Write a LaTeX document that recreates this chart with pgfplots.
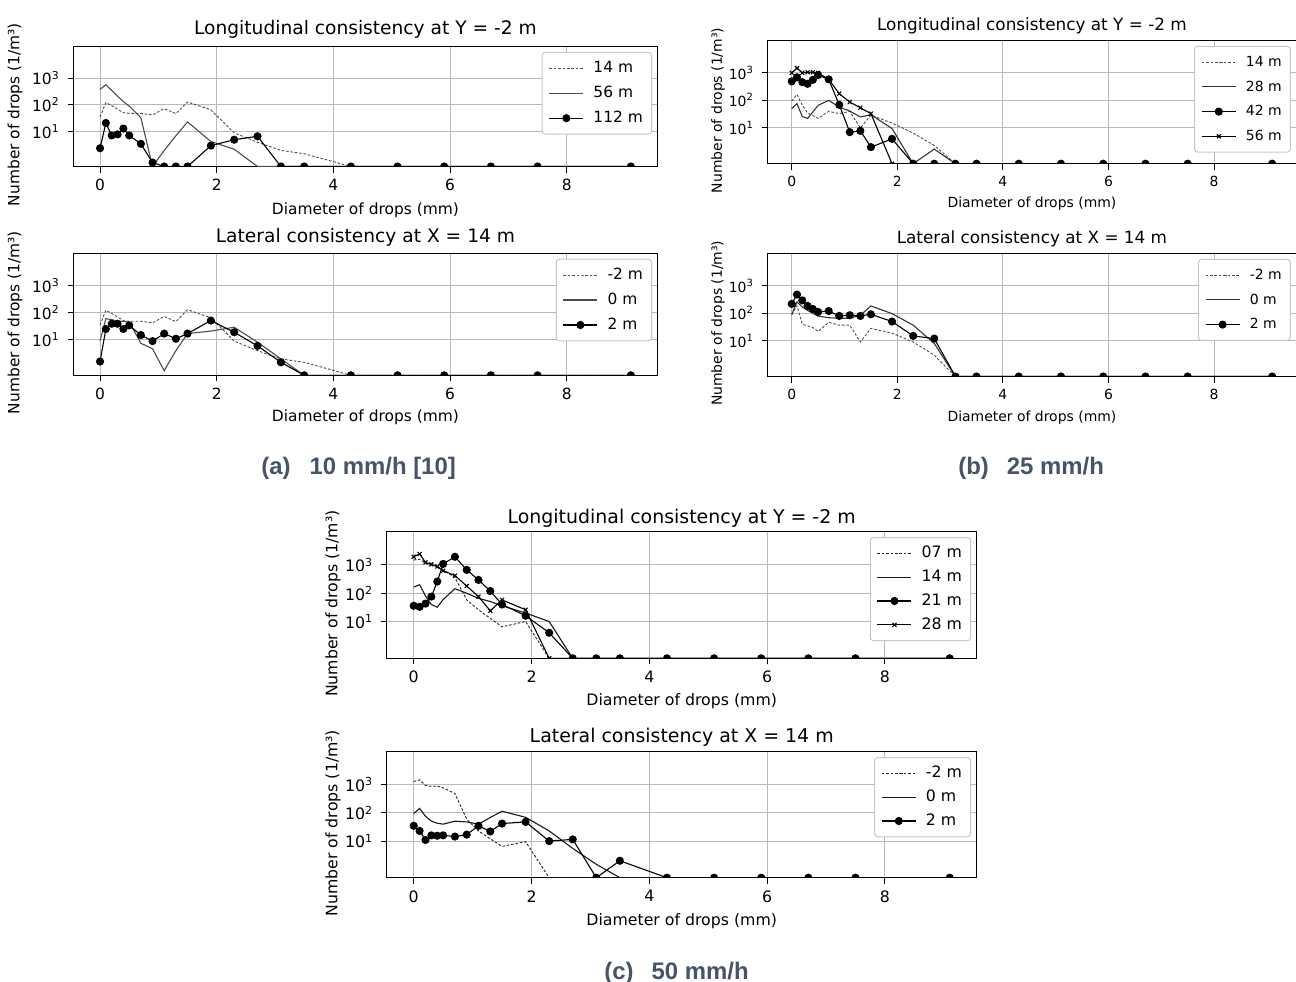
\documentclass[border=0pt]{standalone}
\usepackage{fontspec}
\setmainfont{DejaVu Sans}
\newfontfamily\capfont{Liberation Sans}
\usepackage{pgfplots}
\pgfplotsset{compat=1.18}
\usepackage{pgfplotstable}
\usetikzlibrary{calc}
\definecolor{capcol}{HTML}{44546A}

\pgfplotstableread{
x a b c
0 35 376 2.4
0.1 122 560 21
0.2 93 345 7.2
0.3 69 210 7.9
0.4 51 133 13
0.5 48 89 7.2
0.7 48 33 3.5
0.9 42 0.5 0.7
1.1 72 2.0 0.5
1.3 47 7 0.5
1.5 127 23 0.5
1.9 65 4.3 3.0
2.3 9 2.2 5.0
2.7 4 0.5 6.7
3.1 2 0.5 0.5
3.5 1.5 0.5 0.5
4.3 0.5 0.5 0.5
5.1 0.5 0.5 0.5
5.9 0.5 0.5 0.5
6.7 0.5 0.5 0.5
7.5 0.5 0.5 0.5
9.1 0.5 0.5 0.5
}\tAone

\pgfplotstableread{
x a b c
0 35 9 1.6
0.1 122 60 25
0.2 93 55 39
0.3 69 49 39
0.4 51 47 25
0.5 48 45 34
0.7 48 7.5 15
0.9 42 4.7 9
1.1 72 0.74 17
1.3 47 4 11
1.5 127 17 17
1.9 65 21 51
2.3 9 29 19
2.7 4 8.2 6
3.1 2 2 1.5
3.5 1.5 0.5 0.5
4.3 0.5 0.5 0.5
5.1 0.5 0.5 0.5
5.9 0.5 0.5 0.5
6.7 0.5 0.5 0.5
7.5 0.5 0.5 0.5
9.1 0.5 0.5 0.5
}\tAtwo

\pgfplotstableread{
x a b c d
0 95 50 490 1000
0.1 165 76 690 1500
0.2 66 26 460 1000
0.3 35 22 400 1050
0.4 28 38 560 1050
0.5 22 66 830 1000
0.7 40 100 580 580
0.9 33 57 69 175
1.1 40 41 7 87
1.3 10 25 7.8 54
1.5 29 30 2 33
1.9 15 9.5 4 0.5
2.3 6.5 0.5 0.5 0.5
2.7 2.3 1.7 0.5 0.5
3.1 0.5 0.5 0.5 0.5
3.5 0.5 0.5 0.5 0.5
4.3 0.5 0.5 0.5 0.5
5.1 0.5 0.5 0.5 0.5
5.9 0.5 0.5 0.5 0.5
6.7 0.5 0.5 0.5 0.5
7.5 0.5 0.5 0.5 0.5
9.1 0.5 0.5 0.5 0.5
}\tBone

\pgfplotstableread{
x a b c
0 90 90 220
0.1 190 260 480
0.2 40 170 295
0.3 35 127 185
0.4 30 100 144
0.5 22 79 112
0.7 47 69 121
0.9 37 66 80
1.1 37 66 85
1.3 9 85 80
1.5 28 185 92
1.9 19 97 50
2.3 9 37 15
2.7 3 8 12
3.1 0.5 0.5 0.5
3.5 0.5 0.5 0.5
4.3 0.5 0.5 0.5
5.1 0.5 0.5 0.5
5.9 0.5 0.5 0.5
6.7 0.5 0.5 0.5
7.5 0.5 0.5 0.5
9.1 0.5 0.5 0.5
}\tBtwo

\pgfplotstableread{
x a b c d
0 1500 165 36 1950
0.1 1600 200 33 2450
0.2 1150 80 43 1240
0.3 1000 40 76 1050
0.4 900 32 260 880
0.5 650 60 1090 630
0.7 360 145 1950 420
0.9 58 100 670 180
1.1 26 66 295 76
1.3 13 51 120 24
1.5 6.5 36 40 58
1.9 10 20 16 26
2.3 0.5 10 4 0.5
2.7 0.5 0.5 0.5 0.5
3.1 0.5 0.5 0.5 0.5
3.5 0.5 0.5 0.5 0.5
4.3 0.5 0.5 0.5 0.5
5.1 0.5 0.5 0.5 0.5
5.9 0.5 0.5 0.5 0.5
6.7 0.5 0.5 0.5 0.5
7.5 0.5 0.5 0.5 0.5
9.1 0.5 0.5 0.5 0.5
}\tCone

\pgfplotstableread{
x a b c
0 1300 95 35
0.1 1500 145 23
0.2 950 76 11
0.3 880 51 16
0.4 900 43 15.5
0.5 780 40 16
0.7 490 51 14.5
0.9 60 48 17
1.1 23 40 35
1.3 12 69 22
1.5 6.5 115 42
1.9 9.5 70 48
2.3 0.5 23 10
2.7 0.5 5.5 11.5
3.1 0.5 1.5 0.5
3.5 0.5 0.5 2
4.3 0.5 0.5 0.5
5.1 0.5 0.5 0.5
5.9 0.5 0.5 0.5
6.7 0.5 0.5 0.5
7.5 0.5 0.5 0.5
9.1 0.5 0.5 0.5
}\tCtwo

\pgfplotsset{
  scale only axis,
  ymin=0.5, ymax=15000, xmin=-0.455, xmax=9.555,
  xtick={0,2,4,6,8}, ytick={10,100,1000},
  yticklabels={10\textsuperscript{1},10\textsuperscript{2},10\textsuperscript{3}},
  yminorticks=false, xminorticks=false,
  grid=major, major grid style={line width=0.5bp, draw=black!28},
  axis line style={line width=0.55bp},
  major tick style={black, line width=0.5bp},
  major tick length=3bp, tick align=outside, tick pos=left,
  clip marker paths=true,
  xticklabel style={inner sep=0pt, yshift=-3.2bp},
  yticklabel style={inner sep=0pt, xshift=-3.7bp},
  legend cell align=left,
  legend style={at={(1,1)}, anchor=north east, xshift=-2.7bp, yshift=-2.7bp,
    draw=black!22, line width=0.5bp, rounded corners=1.5bp, fill=white,
    inner sep=3.3bp, nodes={inner sep=1bp, text height=5.7bp, text depth=1.5bp},
    /tikz/every odd column/.append style={column sep=3.8bp}},
  legend image code/.code={\draw[mark repeat=2,mark phase=2,#1] plot coordinates {(0bp,0bp) (8.5bp,0bp) (17bp,0bp)};},
}
\pgfkeys{/pgf/number format/assume math mode=true}
\tikzset{
  lsdot/.style={draw=black!70, line width=0.45bp, dash pattern=on 1.3bp off 0.9bp, mark=none},
  lssol/.style={draw=black!70, line width=0.55bp, mark=none},
  lsdotm/.style={draw=black, line width=0.55bp, mark=*, mark size=1.75bp, mark options={solid, fill=black}},
  lsxm/.style={draw=black, line width=0.55bp, mark=x, mark size=1.4bp, mark options={solid}},
}

\begin{document}
\begin{tikzpicture}
\useasboundingbox (0,0) rectangle (648bp,-491bp);
\clip (0,0) rectangle (648bp,-491bp);

% (a) top
\begin{axis}[ymode=log, anchor=south west, at={(36.75bp,-83.25bp)}, width=291.95bp, height=60bp,
  title={Longitudinal consistency at Y = -2 m},
  xlabel={Diameter of drops (mm)}, ylabel={Number of drops (1/m³)},
  title style={font=\fontsize{9.35}{9.35}\selectfont, at={($(rel axis cs:0.5,1)+(0,6.4bp)$)}, anchor=center, yshift=0pt},
  xlabel style={at={($(rel axis cs:0.5,0)+(0,-17.6bp)$)}, anchor=center},
  ylabel style={at={($(rel axis cs:0,0.5)+(-29.25bp,0)$)}, anchor=center},
  tick label style={font=\fontsize{7.75}{7.75}\selectfont},
  label style={font=\fontsize{7.75}{7.75}\selectfont},
  legend style={font=\fontsize{7.75}{7.75}\selectfont, row sep=3.3bp}]
\addplot[lsdot] table[x=x,y=a]{\tAone};
\addplot[lssol] table[x=x,y=b]{\tAone};
\addplot[lsdotm] table[x=x,y=c]{\tAone};
\legend{14 m,56 m,112 m}
\end{axis}

% (a) bottom
\begin{axis}[ymode=log, anchor=south west, at={(36.75bp,-187.65bp)}, width=291.95bp, height=61bp,
  title={Lateral consistency at X = 14 m},
  xlabel={Diameter of drops (mm)}, ylabel={Number of drops (1/m³)},
  title style={font=\fontsize{9.35}{9.35}\selectfont, at={($(rel axis cs:0.5,1)+(0,6bp)$)}, anchor=center, yshift=0pt},
  xlabel style={at={($(rel axis cs:0.5,0)+(0,-16.8bp)$)}, anchor=center},
  ylabel style={at={($(rel axis cs:0,0.5)+(-29.25bp,0)$)}, anchor=center},
  tick label style={font=\fontsize{7.75}{7.75}\selectfont},
  label style={font=\fontsize{7.75}{7.75}\selectfont},
  legend style={font=\fontsize{7.75}{7.75}\selectfont, row sep=3.3bp}]
\addplot[lsdot] table[x=x,y=a]{\tAtwo};
\addplot[lssol] table[x=x,y=b]{\tAtwo};
\addplot[lsdotm] table[x=x,y=c]{\tAtwo};
\legend{-2 m,0 m,2 m}
\end{axis}

% (b) top
\begin{axis}[ymode=log, anchor=south west, at={(383.85bp,-81.85bp)}, width=264.25bp, height=61.6bp,
  title={Longitudinal consistency at Y = -2 m},
  xlabel={Diameter of drops (mm)}, ylabel={Number of drops (1/m³)},
  title style={font=\fontsize{8.45}{8.45}\selectfont, at={($(rel axis cs:0.5,1)+(0,5.6bp)$)}, anchor=center, yshift=0pt},
  xlabel style={at={($(rel axis cs:0.5,0)+(0,-15.6bp)$)}, anchor=center},
  ylabel style={at={($(rel axis cs:0,0.5)+(-24.85bp,0)$)}, anchor=center},
  tick label style={font=\fontsize{7}{7}\selectfont},
  label style={font=\fontsize{7}{7}\selectfont},
  legend style={font=\fontsize{7}{7}\selectfont, row sep=3.15bp}]
\addplot[lsdot] table[x=x,y=a]{\tBone};
\addplot[lssol, draw=black!80] table[x=x,y=b]{\tBone};
\addplot[lsdotm] table[x=x,y=c]{\tBone};
\addplot[lsxm] table[x=x,y=d]{\tBone};
\legend{14 m,28 m,42 m,56 m}
\end{axis}

% (b) bottom
\begin{axis}[ymode=log, anchor=south west, at={(383.85bp,-188.25bp)}, width=264.25bp, height=61.5bp,
  title={Lateral consistency at X = 14 m},
  xlabel={Diameter of drops (mm)}, ylabel={Number of drops (1/m³)},
  title style={font=\fontsize{8.45}{8.45}\selectfont, at={($(rel axis cs:0.5,1)+(0,5.3bp)$)}, anchor=center, yshift=0pt},
  xlabel style={at={($(rel axis cs:0.5,0)+(0,-16.2bp)$)}, anchor=center},
  ylabel style={at={($(rel axis cs:0,0.5)+(-24.85bp,0)$)}, anchor=center},
  tick label style={font=\fontsize{7}{7}\selectfont},
  label style={font=\fontsize{7}{7}\selectfont},
  legend style={font=\fontsize{7}{7}\selectfont, row sep=3.15bp}]
\addplot[lsdot] table[x=x,y=a]{\tBtwo};
\addplot[lssol, draw=black!80] table[x=x,y=b]{\tBtwo};
\addplot[lsdotm] table[x=x,y=c]{\tBtwo};
\legend{-2 m,0 m,2 m}
\end{axis}

% (c) top
\begin{axis}[ymode=log, anchor=south west, at={(193.45bp,-329.15bp)}, width=294.8bp, height=63.3bp,
  title={Longitudinal consistency at Y = -2 m},
  xlabel={Diameter of drops (mm)}, ylabel={Number of drops (1/m³)},
  title style={font=\fontsize{9.5}{9.5}\selectfont, at={($(rel axis cs:0.5,1)+(0,4.9bp)$)}, anchor=center, yshift=0pt},
  xlabel style={at={($(rel axis cs:0.5,0)+(0,-17.3bp)$)}, anchor=center},
  ylabel style={at={($(rel axis cs:0,0.5)+(-26.95bp,0)$)}, anchor=center},
  tick label style={font=\fontsize{7.9}{7.9}\selectfont},
  label style={font=\fontsize{7.9}{7.9}\selectfont},
  legend style={font=\fontsize{7.9}{7.9}\selectfont, row sep=2.7bp}]
\addplot[lsdot, draw=black!85] table[x=x,y=a]{\tCone};
\addplot[lssol, draw=black!90] table[x=x,y=b]{\tCone};
\addplot[lsdotm] table[x=x,y=c]{\tCone};
\addplot[lsxm] table[x=x,y=d]{\tCone};
\legend{07 m,14 m,21 m,28 m}
\end{axis}

% (c) bottom
\begin{axis}[ymode=log, anchor=south west, at={(193.45bp,-438.85bp)}, width=294.8bp, height=63bp,
  title={Lateral consistency at X = 14 m},
  xlabel={Diameter of drops (mm)}, ylabel={Number of drops (1/m³)},
  title style={font=\fontsize{9.5}{9.5}\selectfont, at={($(rel axis cs:0.5,1)+(0,5.4bp)$)}, anchor=center, yshift=0pt},
  xlabel style={at={($(rel axis cs:0.5,0)+(0,-17.6bp)$)}, anchor=center},
  ylabel style={at={($(rel axis cs:0,0.5)+(-26.95bp,0)$)}, anchor=center},
  tick label style={font=\fontsize{7.9}{7.9}\selectfont},
  label style={font=\fontsize{7.9}{7.9}\selectfont},
  legend style={font=\fontsize{7.9}{7.9}\selectfont, row sep=2.7bp}]
\addplot[lsdot, draw=black!85] table[x=x,y=a]{\tCtwo};
\addplot[lssol, draw=black!90] table[x=x,y=b]{\tCtwo};
\addplot[lsdotm] table[x=x,y=c]{\tCtwo};
\legend{-2 m,0 m,2 m}
\end{axis}

\node[anchor=base west, inner sep=0pt, text=capcol, font=\capfont\bfseries\fontsize{12}{12}\selectfont] at (130.5bp,-237.3bp) {(a)\hspace{9.5bp}10 mm/h [10]};
\node[anchor=base west, inner sep=0pt, text=capcol, font=\capfont\bfseries\fontsize{12}{12}\selectfont] at (479bp,-237.3bp) {(b)\hspace{9bp}25 mm/h};
\node[anchor=base west, inner sep=0pt, text=capcol, font=\capfont\bfseries\fontsize{12}{12}\selectfont] at (302bp,-489.8bp) {(c)\hspace{9bp}50 mm/h};
\end{tikzpicture}
\end{document}
